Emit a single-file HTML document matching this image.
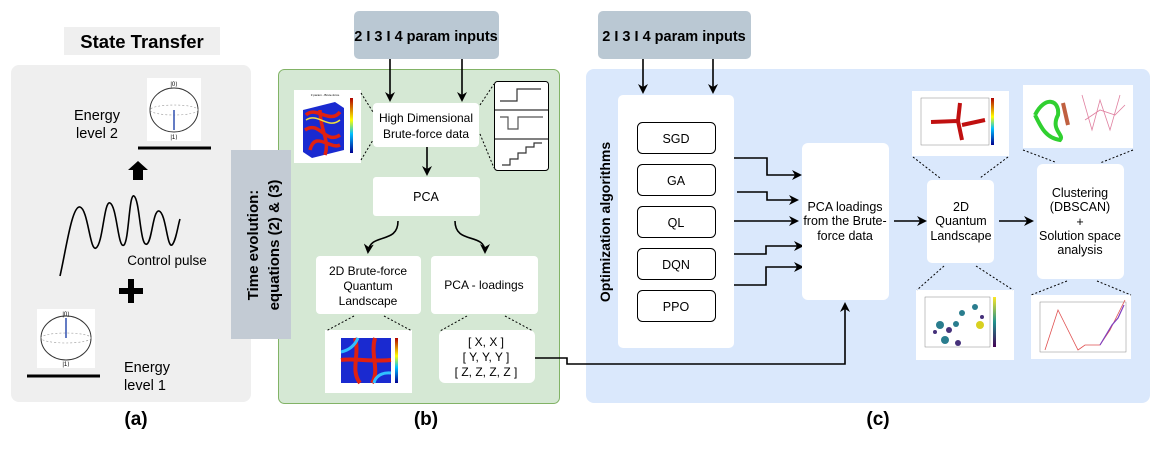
<!DOCTYPE html>
<html><head><meta charset="utf-8"><style>
body{margin:0;background:#fff;}
svg text{font-family:"Liberation Sans",Arial,sans-serif;}
</style></head><body>
<svg width="1156" height="450" viewBox="0 0 1156 450" xmlns="http://www.w3.org/2000/svg">
<defs>
<marker id="ah" markerWidth="10" markerHeight="10" refX="8" refY="5" orient="auto" markerUnits="userSpaceOnUse">
<path d="M0,0 L10,5 L0,10 L3,5 Z" fill="#000"/></marker>
<linearGradient id="jet" x1="0" y1="1" x2="0" y2="0"><stop offset="0" stop-color="#00008f"/><stop offset=".35" stop-color="#00c0ff"/><stop offset=".6" stop-color="#ffff00"/><stop offset="1" stop-color="#b00000"/></linearGradient>
<linearGradient id="vir" x1="0" y1="1" x2="0" y2="0"><stop offset="0" stop-color="#440154"/><stop offset=".5" stop-color="#21918c"/><stop offset="1" stop-color="#fde725"/></linearGradient>
</defs>

<!-- (a) -->
<rect x="64" y="27" width="156" height="28" fill="#efefef"/>
<text x="142" y="48" font-size="18.5" font-weight="bold" text-anchor="middle">State Transfer</text>
<rect x="11" y="65" width="240" height="337" rx="8" fill="#efefef"/>
<text x="97" y="120" font-size="14.5" text-anchor="middle">Energy</text>
<text x="97" y="138" font-size="14.5" text-anchor="middle">level 2</text>
<rect x="147" y="78" width="54" height="63" fill="#fff"/>
<ellipse cx="174" cy="110" rx="24" ry="22" fill="none" stroke="#333" stroke-width="1"/>
<ellipse cx="174" cy="110" rx="24" ry="5" fill="none" stroke="#999" stroke-width=".6" stroke-dasharray="2,2"/>
<line x1="174" y1="110" x2="174" y2="130" stroke="#3050b0" stroke-width="1.5"/>
<text x="174" y="86" font-size="6" text-anchor="middle">|0⟩</text>
<text x="174" y="139" font-size="6" text-anchor="middle">|1⟩</text>
<line x1="138" y1="148" x2="211" y2="148" stroke="#000" stroke-width="3"/>
<path d="M133,180 L133,170 L128,170 L138,161 L148,170 L143,170 L143,180 Z" fill="#000"/>
<path d="M60,276 C66,250 72,205 80,207 C88,209 90,252 96,248 C103,244 104,200 110,203 C117,206 118,250 124,245 C129,240 129,193 134,196 C140,200 140,248 147,244 C152,241 153,210 159,211 C166,213 167,248 172,245 C176,241 178,225 180,219" fill="none" stroke="#000" stroke-width="1.6"/>
<text x="167" y="265" font-size="13.5" text-anchor="middle">Control pulse</text>
<rect x="119" y="288" width="24" height="6" fill="#000"/><rect x="128" y="279" width="6" height="24" fill="#000"/>
<rect x="37" y="309" width="58" height="59" fill="#fff"/>
<ellipse cx="66" cy="338" rx="25" ry="22" fill="none" stroke="#333" stroke-width="1"/>
<ellipse cx="66" cy="338" rx="25" ry="5" fill="none" stroke="#999" stroke-width=".6" stroke-dasharray="2,2"/>
<line x1="66" y1="338" x2="66" y2="318" stroke="#3050b0" stroke-width="1.5"/>
<text x="66" y="316" font-size="6" text-anchor="middle">|0⟩</text>
<text x="66" y="366" font-size="6" text-anchor="middle">|1⟩</text>
<line x1="27" y1="376" x2="100" y2="376" stroke="#000" stroke-width="3"/>
<text x="147" y="372" font-size="14.5" text-anchor="middle">Energy</text>
<text x="145" y="390" font-size="14.5" text-anchor="middle">level 1</text>
<text x="136" y="425" font-size="19" font-weight="bold" text-anchor="middle">(a)</text>

<!-- (b) -->
<rect x="278.5" y="69.5" width="281" height="334" rx="6" fill="#d5e8d4" stroke="#82b366"/>
<rect x="354" y="11" width="145" height="48" rx="5" fill="#bac8d3"/>
<text x="426" y="41" font-size="14.5" font-weight="bold" text-anchor="middle">2 I 3 I 4 param inputs</text>
<line x1="390" y1="59" x2="390" y2="100" stroke="#000" stroke-width="1.6" marker-end="url(#ah)"/>
<line x1="462" y1="59" x2="462" y2="100" stroke="#000" stroke-width="1.6" marker-end="url(#ah)"/>
<rect x="231" y="150" width="60" height="189" fill="#c3cbd4"/>
<text transform="translate(258,245) rotate(-90)" font-size="15" font-weight="bold" text-anchor="middle">Time evolution:</text>
<text transform="translate(279,245) rotate(-90)" font-size="15" font-weight="bold" text-anchor="middle">equations (2) &amp; (3)</text>
<rect x="373" y="103" width="106" height="44" rx="4" fill="#fff"/>
<text x="426" y="122" font-size="12" text-anchor="middle">High Dimensional</text>
<text x="426" y="138" font-size="12" text-anchor="middle">Brute-force  data</text>
<line x1="427" y1="147" x2="427" y2="174" stroke="#000" stroke-width="1.6" marker-end="url(#ah)"/>
<rect x="373" y="177" width="107" height="39" rx="3" fill="#fff"/>
<text x="426" y="201" font-size="12.5" text-anchor="middle">PCA</text>
<path d="M398,221 C398,245 370,232 368,252" fill="none" stroke="#000" stroke-width="1.6" marker-end="url(#ah)"/>
<path d="M455,221 C455,245 485,232 485,252" fill="none" stroke="#000" stroke-width="1.6" marker-end="url(#ah)"/>
<rect x="316" y="256" width="105" height="58" rx="4" fill="#fff"/>
<text x="368" y="275" font-size="12" text-anchor="middle">2D Brute-force</text>
<text x="368" y="290" font-size="12" text-anchor="middle">Quantum</text>
<text x="368" y="305" font-size="12" text-anchor="middle">Landscape</text>
<rect x="431" y="256" width="107" height="58" rx="4" fill="#fff"/>
<text x="484" y="289" font-size="12" text-anchor="middle">PCA - loadings</text>
<rect x="439" y="330" width="96" height="53" rx="6" fill="#fff"/>
<text x="486" y="346" font-size="12" text-anchor="middle">[ X, X ]</text>
<text x="486" y="361" font-size="12" text-anchor="middle">[ Y, Y, Y ]</text>
<text x="486" y="376" font-size="12" text-anchor="middle">[ Z, Z, Z, Z ]</text>
<!-- cube image -->
<rect x="294" y="90" width="67" height="73" fill="#fff"/>
<path d="M303,110 L335,102 L344,108 L344,150 L312,158 L303,152 Z" fill="#1a2ad0"/>
<path d="M306,115 C316,105 330,125 340,112 M305,130 C320,120 325,145 340,135 M310,150 C315,130 330,150 340,145 M320,110 C320,130 330,140 325,155" stroke="#e02010" stroke-width="3.5" fill="none"/>
<path d="M306,120 C318,112 328,130 340,120" stroke="#f0e040" stroke-width="1.5" fill="none"/>
<rect x="350" y="98" width="3" height="55" fill="url(#jet)"/>
<text x="325" y="96" font-size="3" text-anchor="middle">3 param - Brute-force</text>
<line x1="361" y1="93" x2="373" y2="112" stroke="#000" stroke-dasharray="2,2"/>
<line x1="361" y1="160" x2="373" y2="140" stroke="#000" stroke-dasharray="2,2"/>
<!-- steps -->
<rect x="494.5" y="81.5" width="54" height="89" rx="3" fill="#fff" stroke="#000"/>
<line x1="494" y1="110" x2="548" y2="110" stroke="#000"/><line x1="494" y1="139" x2="548" y2="139" stroke="#000"/>
<path d="M500,101 L517,101 L517,89 L541,89" stroke="#333" fill="none" stroke-width="1.2"/>
<path d="M500,117 L508,117 L508,129 L518,129 L518,117 L543,117" stroke="#555" fill="none" stroke-width="1.2"/>
<path d="M502,165 L510,165 L510,159 L518,159 L518,153 L526,153 L526,147 L534,147 L534,143 L542,143" stroke="#333" fill="none" stroke-width="1.2"/>
<line x1="480" y1="105" x2="494" y2="84" stroke="#000" stroke-dasharray="2,2"/>
<line x1="480" y1="134" x2="494" y2="168" stroke="#000" stroke-dasharray="2,2"/>
<!-- 2D heatmap -->
<rect x="325" y="330" width="87" height="63" fill="#fff"/>
<rect x="341" y="338" width="50" height="45" fill="#1a2ad0"/>
<path d="M355,338 C360,355 350,370 360,383 M375,338 C370,355 380,370 372,383 M341,360 C355,358 370,362 391,360" stroke="#e02010" stroke-width="4" fill="none"/>
<path d="M341,352 C350,350 355,345 358,338 M391,373 C380,372 375,378 374,383" stroke="#30c0ff" stroke-width="3" fill="none"/>
<rect x="395" y="338" width="3" height="45" fill="url(#jet)"/>
<line x1="354" y1="316" x2="326" y2="331" stroke="#000" stroke-dasharray="2,2"/>
<line x1="384" y1="316" x2="412" y2="331" stroke="#000" stroke-dasharray="2,2"/>
<line x1="467" y1="316" x2="440" y2="331" stroke="#000" stroke-dasharray="2,2"/>
<line x1="505" y1="316" x2="533" y2="331" stroke="#000" stroke-dasharray="2,2"/>
<text x="426" y="425" font-size="19" font-weight="bold" text-anchor="middle">(b)</text>

<!-- (c) -->
<rect x="586" y="69" width="564" height="334" rx="8" fill="#dae8fc"/>
<rect x="598" y="11" width="153" height="48" rx="5" fill="#bac8d3"/>
<text x="674" y="41" font-size="14.5" font-weight="bold" text-anchor="middle">2 I 3 I 4 param inputs</text>
<line x1="643" y1="59" x2="643" y2="92" stroke="#000" stroke-width="1.6" marker-end="url(#ah)"/>
<line x1="713" y1="59" x2="713" y2="92" stroke="#000" stroke-width="1.6" marker-end="url(#ah)"/>
<rect x="618" y="95" width="116" height="253" rx="5" fill="#fff"/>
<text transform="translate(610,222) rotate(-90)" font-size="14" font-weight="bold" text-anchor="middle">Optimization algorithms</text>
<g fill="#fff" stroke="#000" stroke-width="1">
<rect x="637.5" y="122.5" width="78" height="31" rx="5"/>
<rect x="637.5" y="164.5" width="78" height="31" rx="5"/>
<rect x="637.5" y="206.5" width="78" height="31" rx="5"/>
<rect x="637.5" y="248.5" width="78" height="31" rx="5"/>
<rect x="637.5" y="290.5" width="78" height="31" rx="5"/>
</g>
<g font-size="12.5" text-anchor="middle">
<text x="676" y="143">SGD</text><text x="676" y="185">GA</text><text x="676" y="227">QL</text><text x="676" y="269">DQN</text><text x="676" y="311">PPO</text>
</g>
<g fill="none" stroke="#000" stroke-width="1.6" marker-end="url(#ah)">
<path d="M734,158 L767,158 L767,175 L800,175"/>
<path d="M737,192 L767,192 L767,200 L797,200"/>
<path d="M734,221 L797,221"/>
<path d="M734,254 L766,254 L766,246 L802,246"/>
<path d="M734,285 L766,285 L766,267 L802,267"/>
<path d="M535,358 L567,358 L567,364 L845,364 L845,304"/>
<path d="M894,221 L925,221"/>
<path d="M999,221 L1032,221"/>
</g>
<rect x="802" y="143" width="87" height="157" rx="6" fill="#fff"/>
<text x="845" y="211" font-size="12.5" text-anchor="middle">PCA loadings</text>
<text x="845" y="225" font-size="12.5" text-anchor="middle">from the Brute-</text>
<text x="845" y="240" font-size="12.5" text-anchor="middle">force data</text>
<rect x="927" y="180" width="67" height="83" rx="5" fill="#fff"/>
<text x="961" y="211" font-size="12.5" text-anchor="middle">2D</text>
<text x="961" y="225" font-size="12.5" text-anchor="middle">Quantum</text>
<text x="961" y="240" font-size="12.5" text-anchor="middle">Landscape</text>
<rect x="1037" y="164" width="87" height="115" rx="6" fill="#fff"/>
<text x="1080" y="197" font-size="12.5" text-anchor="middle">Clustering</text>
<text x="1080" y="211" font-size="12.5" text-anchor="middle">(DBSCAN)</text>
<text x="1080" y="226" font-size="12.5" text-anchor="middle">+</text>
<text x="1080" y="240" font-size="12.5" text-anchor="middle">Solution space</text>
<text x="1080" y="254" font-size="12.5" text-anchor="middle">analysis</text>
<!-- plots -->
<rect x="912" y="91" width="97" height="65" fill="#fff"/>
<rect x="921" y="98" width="68" height="47" fill="none" stroke="#888" stroke-width=".5"/>
<path d="M931,122 L958,121 L960,103 M958,121 L962,140 M962,125 L985,120" stroke="#c01010" stroke-width="4" fill="none"/>
<rect x="991" y="98" width="3" height="47" fill="url(#jet)"/>
<rect x="1023" y="85" width="110" height="63" fill="#fff"/>
<path d="M1035,115 C1045,95 1060,100 1058,115 C1050,130 1065,135 1060,140 C1045,138 1040,125 1035,115" stroke="#30d030" stroke-width="4" fill="none"/>
<path d="M1063,103 L1068,125" stroke="#c06040" stroke-width="4"/>
<path d="M1082,95 L1092,130 L1100,100 L1110,130 L1120,95 M1085,120 L1100,110 L1115,115 L1125,105" stroke="#e080a0" stroke-width=".8" fill="none"/>
<rect x="916" y="290" width="98" height="70" fill="#fff"/>
<rect x="925" y="297" width="65" height="50" fill="none" stroke="#888" stroke-width=".5"/>
<g fill="#2a7d8e"><circle cx="940" cy="325" r="4"/><circle cx="945" cy="340" r="4"/><circle cx="962" cy="313" r="3"/><circle cx="975" cy="307" r="3"/><circle cx="956" cy="324" r="3"/></g>
<g fill="#45307a"><circle cx="949" cy="330" r="3"/><circle cx="958" cy="343" r="3"/><circle cx="982" cy="317" r="2"/><circle cx="935" cy="332" r="2"/></g>
<circle cx="980" cy="325" r="4" fill="#d8d020"/>
<rect x="993" y="297" width="3" height="50" fill="url(#vir)"/>
<rect x="1031" y="295" width="100" height="64" fill="#fff"/>
<rect x="1040" y="302" width="86" height="50" fill="none" stroke="#888" stroke-width=".5"/>
<path d="M1045,350 L1058,310 L1078,350 L1085,345 L1100,345 L1110,330 L1120,310 L1125,300" stroke="#e05050" stroke-width=".8" fill="none"/>
<path d="M1100,345 L1112,325 L1118,318 L1124,305" stroke="#8040c0" stroke-width="1.2" fill="none"/>
<g stroke="#000" stroke-dasharray="2,2">
<line x1="913" y1="157" x2="940" y2="178"/><line x1="1008" y1="157" x2="980" y2="178"/>
<line x1="944" y1="266" x2="917" y2="290"/><line x1="976" y1="266" x2="1013" y2="290"/>
<line x1="1023" y1="150" x2="1055" y2="162"/><line x1="1133" y1="150" x2="1100" y2="163"/>
<line x1="1067" y1="281" x2="1031" y2="295"/><line x1="1097" y1="281" x2="1131" y2="295"/>
</g>
<text x="878" y="425" font-size="19" font-weight="bold" text-anchor="middle">(c)</text>
</svg>
</body></html>
